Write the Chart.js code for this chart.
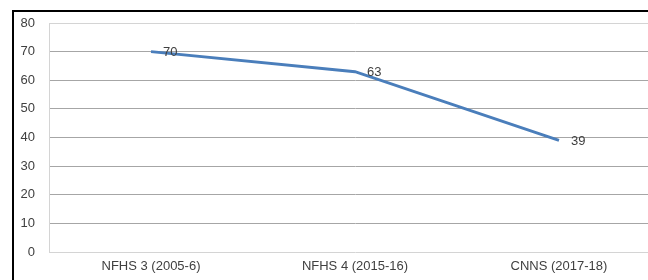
<!DOCTYPE html>
<html>
<head>
<meta charset="utf-8">
<script src="https://cdn.jsdelivr.net/npm/chart.js@4/dist/chart.umd.min.js"></script>
<style>
  html, body { margin: 0; padding: 0; background: #fff; overflow: hidden; width: 648px; height: 280px; }
  #wrap { position: absolute; left: 0; top: 0; width: 680px; height: 280px; }
  #frame { position: absolute; left: 12px; top: 10px; right: 0; bottom: 0; border-left: 2px solid #000; border-top: 2px solid #000; pointer-events: none; }
</style>
</head>
<body>
<div id="wrap"><canvas id="c"></canvas></div>
<div id="frame"></div>
<script>
const categories = ["NFHS 3 (2005-6)", "NFHS 4 (2015-16)", "CNNS (2017-18)"];
const seriesValues = [70, 63, 39];
const yTicks = [0, 10, 20, 30, 40, 50, 60, 70, 80];

const FONT = "'Liberation Sans', Arial, sans-serif";
const TEXT = "#404040";

const dataLabels = {
  id: "dataLabels",
  afterDatasetsDraw(chart) {
    const ctx = chart.ctx;
    const meta = chart.getDatasetMeta(0);
    ctx.save();
    ctx.font = "13px " + FONT;
    ctx.fillStyle = TEXT;
    ctx.textAlign = "left";
    ctx.textBaseline = "middle";
    meta.data.forEach((pt, i) => {
      ctx.fillText(String(seriesValues[i]), pt.x + 12, pt.y + 1);
    });
    ctx.restore();
  }
};

new Chart(document.getElementById("c"), {
  type: "line",
  data: {
    labels: categories,
    datasets: [{
      data: seriesValues,
      borderColor: "#4A7EBB",
      borderWidth: 3,
      tension: 0,
      pointRadius: 0,
      fill: false
    }]
  },
  options: {
    responsive: true,
    maintainAspectRatio: false,
    animation: false,
    layout: { padding: { left: 0, top: 23, right: 19, bottom: 0 } },
    plugins: { legend: { display: false }, tooltip: { enabled: false } },
    scales: {
      x: {
        offset: true,
        grid: { display: false, drawTicks: false },
        border: { display: false },
        ticks: { color: TEXT, font: { family: FONT, size: 13 }, padding: 7, maxRotation: 0 },
        afterFit(s) { s.height = 28; }
      },
      y: {
        min: 0, max: 80,
        afterBuildTicks(s) { s.ticks = yTicks.map(v => ({ value: v })); },
        grid: {
          drawTicks: false,
          color: (c) => (c.tick && (c.tick.value === 80 || c.tick.value === 0)) ? "#d4d4d4" : "#a6a6a6",
          lineWidth: 1
        },
        border: { display: true, color: "#d4d4d4", width: 1 },
        ticks: { color: TEXT, font: { family: FONT, size: 13 }, padding: 14 },
        afterFit(s) { s.width = 49; }
      }
    }
  },
  plugins: [dataLabels]
});
</script>
</body>
</html>
